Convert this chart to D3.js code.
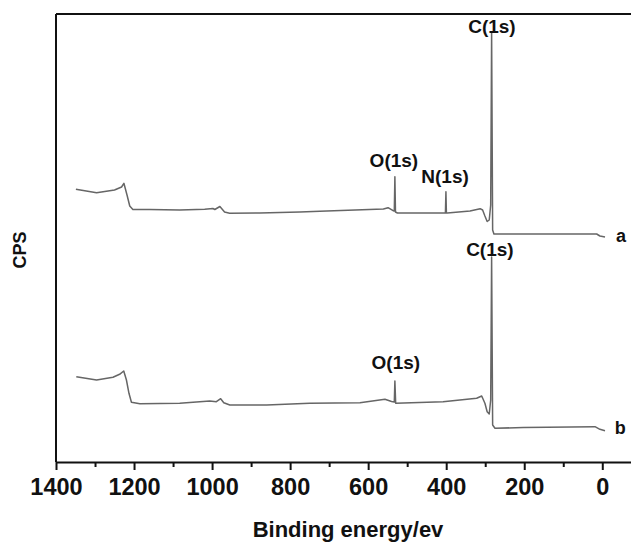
<!DOCTYPE html>
<html>
<head>
<meta charset="utf-8">
<script src="https://cdn.jsdelivr.net/npm/d3@7"></script>
<style>
	body { margin: 0; background: #fff; }
	text { font-family: "Liberation Sans", Arial, sans-serif; font-weight: bold; fill: #111; }
</style>
</head>
<body>
<svg id="chart" width="631" height="544"></svg>
<script>
// Spectrum a (binding energy in eV, counts in arbitrary units)
const energyA = [1349, 1296, 1250, 1232, 1226, 1218, 1211, 1203, 1160, 1083, 1019, 998, 993, 980, 968, 955,
	878, 775, 724, 561, 549, 536, 533, 531.5, 530, 525, 408, 402, 400.7, 399.5, 397, 339, 313, 306.7, 300.8,
	295, 289.7, 286, 283.6, 281, 277.7, 14.4, 6, -7]
const cpsA = [272.7, 269.3, 272, 275, 278.7, 267, 256, 252.5, 252.5, 252, 252.7, 253.5, 252.5, 255.5, 250, 248.7,
	249, 250, 250.7, 253, 254.3, 251.3, 251, 285.3, 250, 249, 249, 249, 270.3, 249, 249, 251, 253.3, 252, 246,
	240.5, 242, 257, 429, 232, 228, 228, 226, 225]

// Spectrum b
const energyB = [1348, 1296, 1254, 1237, 1226.4, 1219.5, 1213, 1206.7, 1185, 1083, 1006, 989, 978, 970, 954.6,
	860, 750, 621, 557, 540, 533, 531.5, 529.5, 408, 322, 309, 300.8, 295, 289.7, 286, 283.6, 281, 275,
	202.5, 18.7, 6, -7]
const cpsB = [85.3, 82, 84.7, 87.7, 91, 82, 68.7, 59.7, 58.3, 58.7, 61, 60.3, 63.3, 59.3, 57,
	57, 58.7, 59.3, 62.7, 60.5, 60, 81, 58.7, 60.3, 63.7, 66, 58.7, 50.3, 48, 62, 205, 37, 33.7,
	34.5, 35.3, 32.7, 31.3]

// Peak labels: text, energy and counts of the label anchor
const labelText = ["C(1s)", "O(1s)", "N(1s)", "C(1s)", "O(1s)"]
const labelEnergy = [282.8, 534, 403, 288, 529]
const labelCps = [429.5, 295.5, 279, 206, 93]

// Series names at the right end
const seriesNames = ["a", "b"]
const seriesEnergy = [-35, -32]
const seriesCps = [220, 28]

const majorTicks = [1400, 1200, 1000, 800, 600, 400, 200, 0]
const minorTicks = [1300, 1100, 900, 700, 500, 300, 100]

const svg = d3.select("#chart")
const plotLeft = 56, plotTop = 14, plotRight = 631, plotBottom = 462

const x = d3.scaleLinear().domain([1400, -73.6]).range([plotLeft, plotRight])
const y = d3.scaleLinear().domain([0, 448]).range([plotBottom, plotTop])

// Frame: top and left border
svg.append("line")
	.attr("x1", plotLeft).attr("x2", plotRight)
	.attr("y1", plotTop).attr("y2", plotTop)
	.style("stroke", "#111").style("stroke-width", 2)
svg.append("line")
	.attr("x1", plotLeft).attr("x2", plotLeft)
	.attr("y1", plotTop).attr("y2", plotBottom)
	.style("stroke", "#111").style("stroke-width", 2)

// Bottom axis
const xAxis = svg.append("g")
	.attr("transform", `translate(0,${plotBottom})`)
	.call(d3.axisBottom(x).tickValues(majorTicks).tickSize(8).tickSizeOuter(0).tickPadding(8).tickFormat(d3.format("d")))
xAxis.select(".domain").style("stroke", "#111").style("stroke-width", 2)
xAxis.selectAll(".tick line").style("stroke", "#111").style("stroke-width", 2)
xAxis.selectAll(".tick text")
	.style("font-family", "\"Liberation Sans\", Arial, sans-serif")
	.style("font-weight", "bold")
	.style("font-size", "23.5px")
	.style("fill", "#111")

const minor = svg.append("g")
	.attr("transform", `translate(0,${plotBottom})`)
	.call(d3.axisBottom(x).tickValues(minorTicks).tickSize(5).tickSizeOuter(0).tickFormat(""))
minor.select(".domain").remove()
minor.selectAll(".tick line").style("stroke", "#111").style("stroke-width", 2)

// Spectra
const line = d3.line()
	.x(d => x(d[0]))
	.y(d => y(d[1]))

const spectra = [d3.zip(energyA, cpsA), d3.zip(energyB, cpsB)]
svg.selectAll("path.spectrum")
	.data(spectra)
	.join("path")
	.attr("class", "spectrum")
	.attr("d", line)
	.style("fill", "none")
	.style("stroke", "#666")
	.style("stroke-width", 1.5)
	.style("stroke-linejoin", "round")

// Peak labels
svg.selectAll("text.peak")
	.data(d3.zip(labelText, labelEnergy, labelCps))
	.join("text")
	.attr("class", "peak")
	.attr("x", d => x(d[1]))
	.attr("y", d => y(d[2]))
	.attr("text-anchor", "middle")
	.style("font-size", "19px")
	.text(d => d[0])

svg.selectAll("text.series")
	.data(d3.zip(seriesNames, seriesEnergy, seriesCps))
	.join("text")
	.attr("class", "series")
	.attr("x", d => x(d[1]))
	.attr("y", d => y(d[2]))
	.style("font-size", "18px")
	.text(d => d[0])

// Axis titles
svg.append("text")
	.attr("x", 348)
	.attr("y", 537)
	.attr("text-anchor", "middle")
	.style("font-size", "22px")
	.text("Binding energy/ev")

svg.append("text")
	.attr("transform", "translate(26,250) rotate(-90)")
	.attr("text-anchor", "middle")
	.style("font-size", "18px")
	.text("CPS")
</script>
</body>
</html>
